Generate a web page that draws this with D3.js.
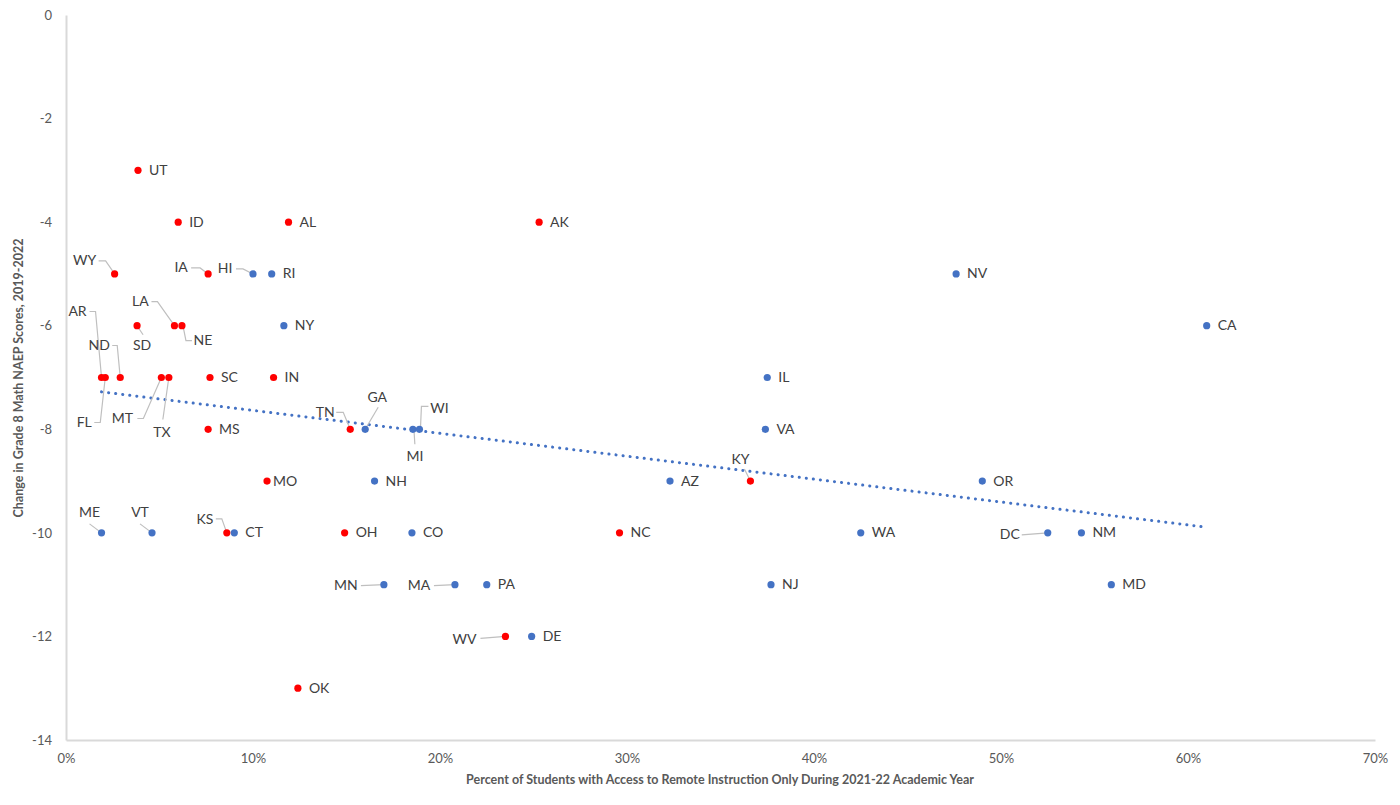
<!DOCTYPE html>
<html><head><meta charset="utf-8">
<script src="https://cdn.jsdelivr.net/npm/d3@7"></script>
<style>
body{margin:0;background:#fff;}
text{font-family:Lato,"Open Sans",sans-serif;}
</style></head>
<body><svg id="c" width="1400" height="805"></svg>
<script>
const states = ["UT","ID","AL","AK","WY","IA","LA","NE","SD","AR","FL","ND","MT","TX","SC","IN","MS","TN","MO","KY","KS","OH","NC","WV","OK",
"HI","RI","NY","NV","CA","IL","GA","MI","WI","VA","NH","AZ","OR","ME","VT","CT","CO","WA","DC","NM","MN","MA","PA","NJ","MD","DE"];
const pctRemote = [3.85,6.0,11.9,25.3,2.6,7.6,5.8,6.2,3.8,1.9,2.1,2.9,5.1,5.5,7.7,11.1,7.6,15.2,10.75,36.6,8.6,14.9,29.6,23.5,12.4,
10.0,11.0,11.65,47.6,61.0,37.5,16.0,18.55,18.9,37.4,16.5,32.3,49.0,1.9,4.6,9.0,18.5,42.5,52.5,54.3,17.0,20.8,22.5,37.7,55.9,24.9];
const scoreChange = [-3,-4,-4,-4,-5,-5,-6,-6,-6,-7,-7,-7,-7,-7,-7,-7,-8,-8,-9,-9,-10,-10,-10,-12,-13,
-5,-5,-6,-5,-6,-7,-8,-8,-8,-8,-9,-9,-9,-10,-10,-10,-10,-10,-10,-10,-11,-11,-11,-11,-11,-12];
const group = ["R","R","R","R","R","R","R","R","R","R","R","R","R","R","R","R","R","R","R","R","R","R","R","R","R",
"B","B","B","B","B","B","B","B","B","B","B","B","B","B","B","B","B","B","B","B","B","B","B","B","B","B"];
const xTicks = [0,10,20,30,40,50,60,70];
const yTicks = [0,-2,-4,-6,-8,-10,-12,-14];
const xTitle = "Percent of Students with Access to Remote Instruction Only During 2021-22 Academic Year";
const yTitle = "Change in Grade 8 Math NAEP Scores, 2019-2022";

// label layout (pixel offsets of label centre and leader path, relative to point)
const labelLayout = {
 WY:{t:[-30,-13],l:[[-16,-13],[-9,-13],[0,0]]},
 IA:{t:[-27,-6],l:[[-17,-6],[-8,-6],[0,0]]},
 HI:{t:[-28,-5],l:[[-17,-5],[-10,-5],[0,0]]},
 LA:{t:[-34,-24],l:[[-23,-24],[-17,-24],[0,0]]},
 NE:{t:[21,15],l:[[10,15],[4,15],[1,0]]},
 SD:{t:[5,20],l:[[0,0],[6,9]]},
 AR:{t:[-24,-66],l:[[-12,-66],[-6,-66],[0,0]]},
 ND:{t:[-21,-32],l:[[-8,-32],[-3,-32],[0,0]]},
 FL:{t:[-21,45],l:[[-11,45],[-5,45],[0,0]]},
 MT:{t:[-39,41],l:[[-24,41],[-18,41],[0,0]]},
 TX:{t:[-7,55],l:[[-6,42],[0,0]]},
 TN:{t:[-25,-17],l:[[-14,-17],[-7,-17],[0,0]]},
 GA:{t:[12,-32],l:[[13,-22],[0,0]]},
 WI:{t:[20,-21],l:[[9,-23],[2,-23],[1,0]]},
 MI:{t:[2,27],l:[[2,15],[1,0]]},
 KY:{t:[-10,-22],l:[[-6,-12],[0,0]]},
 ME:{t:[-12,-20],l:[[-12,-9],[0,0]]},
 VT:{t:[-12,-20],l:[[-12,-9],[0,0]]},
 KS:{t:[-22,-13],l:[[-11,-14],[-5,-14],[0,0]]},
 MN:{t:[-38,1],l:[[-23,1],[0,0]]},
 MA:{t:[-36,1],l:[[-21,1],[0,0]]},
 WV:{t:[-41,3],l:[[-25,2],[0,0]]},
 DC:{t:[-38,2],l:[[-26,2],[0,0]]}
};
const rightGap = {MO:6};

const svg = d3.select("#c");
const x = d3.scaleLinear().domain([0,70]).range([66,1375]);
const y = d3.scaleLinear().domain([-14,0]).range([740,15]);
const colorOf = {R:"#FF0000", B:"#4472C4"};
const tickColor = "#595959";

// axes
const yAxis = svg.append("g").attr("transform","translate(66,0)")
  .call(d3.axisLeft(y).tickValues(yTicks).tickSize(0).tickPadding(14).tickFormat(d=>String(d)));
yAxis.select(".domain").attr("stroke","#D9D9D9").attr("stroke-width",2);
yAxis.selectAll("text").attr("fill",tickColor).attr("font-size",13).style("font-family","Lato");

const xAxis = svg.append("g").attr("transform","translate(0,740)")
  .call(d3.axisBottom(x).tickValues(xTicks).tickSize(0).tickPadding(14).tickFormat(d=>d+"%"));
xAxis.select(".domain").attr("stroke","#D9D9D9").attr("stroke-width",2);
xAxis.selectAll("text").attr("fill",tickColor).attr("font-size",13).style("font-family","Lato");

// titles
svg.append("text").attr("x",720).attr("y",784).attr("text-anchor","middle")
  .attr("font-size",12.5).attr("font-weight","bold").attr("fill",tickColor).text(xTitle);
svg.append("text").attr("transform","translate(23,378) rotate(-90)").attr("text-anchor","middle")
  .attr("font-size",12.5).attr("font-weight","bold").attr("fill",tickColor).text(yTitle);

// trendline (least squares over all points)
const n = states.length;
const mx = d3.mean(pctRemote), my = d3.mean(scoreChange);
let sxy=0, sxx=0;
for(let i=0;i<n;i++){ sxy += (pctRemote[i]-mx)*(scoreChange[i]-my); sxx += (pctRemote[i]-mx)**2; }
const slope = sxy/sxx, icpt = my - slope*mx;
const x0 = d3.min(pctRemote), x1 = d3.max(pctRemote);
svg.append("line").attr("x1",x(x0)).attr("y1",y(icpt+slope*x0)).attr("x2",x(x1)).attr("y2",y(icpt+slope*x1))
  .attr("stroke","#4472C4").attr("stroke-width",3).attr("stroke-linecap","round").attr("stroke-dasharray","0.1,7");

// leader lines
const pts = states.map((s,i)=>({s, px:x(pctRemote[i]), py:y(scoreChange[i]), g:group[i]}));
const lineGen = d3.line();
pts.forEach(p=>{
  const L = labelLayout[p.s];
  if(L){
    svg.append("path").attr("d", lineGen(L.l.map(q=>[p.px+q[0], p.py+q[1]])))
      .attr("fill","none").attr("stroke","#BFBFBF").attr("stroke-width",1.2);
  }
});
// dots
svg.append("g").selectAll("circle").data(pts).join("circle")
  .attr("cx",d=>d.px).attr("cy",d=>d.py).attr("r",3.6).attr("fill",d=>colorOf[d.g]);
// labels
pts.forEach(p=>{
  const L = labelLayout[p.s];
  const t = svg.append("text").attr("font-size",14).attr("fill","#404040").attr("dominant-baseline","central").text(p.s);
  if(L){ t.attr("x",p.px+L.t[0]).attr("y",p.py+L.t[1]-1).attr("text-anchor","middle"); }
  else { t.attr("x",p.px+(rightGap[p.s]||11)).attr("y",p.py-1).attr("text-anchor","start"); }
});
</script></body></html>
